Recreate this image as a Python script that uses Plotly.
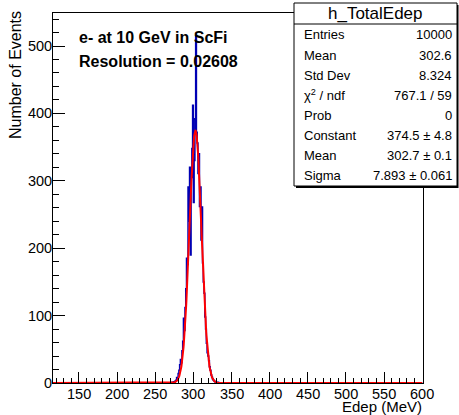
import plotly.graph_objects as go
import math

# ---- data ----
bin_width = 1.0
first_bin_low = 272
counts = [1, 0, 2, 1, 3, 4, 8, 6, 14, 19, 27, 35, 30, 48, 62, 96, 78, 112, 140, 185,
          176, 291, 240, 320, 190, 305, 348, 412, 268, 330, 392, 515, 372, 356, 311,
          340, 262, 291, 212, 261, 178, 150, 133, 98, 80, 59, 45, 40, 33, 24, 19, 12,
          9, 6, 4, 3, 2, 1, 1, 0, 1]
x_range = [116, 601]
x_tick_labels = [150, 200, 250, 300, 350, 400, 450, 500, 550, 600]
fit_constant = 374.5
fit_mean = 302.7
fit_sigma = 7.893

stats_rows = [("Entries", "10000"), ("Mean", "302.6"), ("Std Dev", "8.324"),
              ("χ<sup>2</sup> / ndf", "767.1 / 59"), ("Prob", "0"),
              ("Constant", "374.5 ± 4.8"), ("Mean", "302.7 ± 0.1"),
              ("Sigma", "7.893 ± 0.061")]
stats_title = "h_TotalEdep"
label_lines = ["e- at 10 GeV in ScFi", "Resolution = 0.02608"]

# ---- histogram step line ----
hx = [x_range[0]]
hy = [0]
for i, c in enumerate(counts):
    hx.append(first_bin_low + i * bin_width)
    hy.append(c)
hx.append(first_bin_low + len(counts) * bin_width)
hy.append(0)
hx.append(x_range[1] - 1)
hy.append(0)

# fit curve
fx = []
fy = []
n = 1940
for i in range(n + 1):
    x = x_range[0] + (x_range[1] - 1 - x_range[0]) * i / n
    fx.append(x)
    fy.append(fit_constant * math.exp(-0.5 * ((x - fit_mean) / fit_sigma) ** 2))

W, H = 459, 415
L, R, T, B = 53, 423, 13, 383
FONT = "Liberation Sans, Arial, sans-serif"


def px(x):
    return (x - L) / (R - L)


def py(y):
    return (B - y) / (B - T)


fig = go.Figure()
fig.add_trace(go.Scatter(x=hx, y=hy, mode="lines", line=dict(color="#0000b4", width=1.5, shape="hv"),
                         hoverinfo="skip", showlegend=False))
fig.add_trace(go.Scatter(x=fx, y=fy, mode="lines", line=dict(color="#ff0000", width=2),
                         hoverinfo="skip", showlegend=False))

axis_common = dict(showline=True, linecolor="black", linewidth=1, mirror=True,
                   ticks="inside", tickcolor="black", showgrid=False, zeroline=False,
                   tickfont=dict(family=FONT, size=14.5, color="black"))
fig.update_xaxes(range=x_range, dtick=50, tick0=0, ticklen=11, tickwidth=1,
                 showticklabels=False,
                 minor=dict(dtick=10, ticks="inside", ticklen=5, tickcolor="black"),
                 **axis_common)
fig.update_yaxes(range=[0, 549], dtick=100, tick0=0, ticklen=12, tickwidth=1,
                 ticklabelstandoff=-3,
                 minor=dict(dtick=20, ticks="inside", ticklen=6, tickcolor="black"),
                 **axis_common)

shapes = []
shapes.append(dict(type="rect", xref="paper", yref="paper", x0=px(296), x1=px(458.5), y0=py(188), y1=py(5),
                   fillcolor="black", line=dict(width=0), layer="above"))
shapes.append(dict(type="rect", xref="paper", yref="paper", x0=px(294), x1=px(457), y0=py(186), y1=py(3),
                   fillcolor="white", line=dict(color="black", width=1), layer="above"))
shapes.append(dict(type="line", xref="paper", yref="paper", x0=px(294), x1=px(457), y0=py(24), y1=py(24),
                   line=dict(color="black", width=1), layer="above"))

annotations = []
for v in x_tick_labels:
    annotations.append(dict(text=str(v), xref="x", yref="paper", x=v, y=py(393.5),
                            xanchor="center", yanchor="middle", showarrow=False,
                            font=dict(family=FONT, size=14.5, color="black")))
annotations.append(dict(text=stats_title, xref="paper", yref="paper", x=px(375.5), y=py(14),
                        xanchor="center", yanchor="middle", showarrow=False,
                        font=dict(family=FONT, size=17, color="black")))
for i, (lab, val) in enumerate(stats_rows):
    yy = 35 + i * 20.1
    annotations.append(dict(text=lab, xref="paper", yref="paper", x=px(302), y=py(yy),
                            xanchor="left", yanchor="middle", showarrow=False,
                            font=dict(family=FONT, size=13, color="black")))
    annotations.append(dict(text=val, xref="paper", yref="paper", x=px(453.5), y=py(yy),
                            xanchor="right", yanchor="middle", showarrow=False,
                            font=dict(family=FONT, size=13, color="black")))
for i, line in enumerate(label_lines):
    annotations.append(dict(text="<b>" + line + "</b>", xref="paper", yref="paper", x=px(77),
                            y=py(38 + i * 23), xanchor="left", yanchor="middle", showarrow=False,
                            font=dict(family=FONT, size=16, color="black")))
annotations.append(dict(text="Edep (MeV)", xref="paper", yref="paper", x=px(424), y=py(406),
                        xanchor="right", yanchor="middle", showarrow=False,
                        font=dict(family=FONT, size=15, color="black")))
annotations.append(dict(text="Number of Events", xref="paper", yref="paper", x=px(15), y=py(9),
                        xanchor="center", yanchor="top", textangle=-90, showarrow=False,
                        font=dict(family=FONT, size=16, color="black")))

fig.update_layout(width=W, height=H, margin=dict(l=L, r=W - R, t=T, b=H - B, pad=0),
                  paper_bgcolor="white", plot_bgcolor="white",
                  shapes=shapes, annotations=annotations, showlegend=False)

fig.write_html("out.html", config={"displayModeBar": False},
               post_script="document.body.style.margin='0px';document.body.style.padding='0px';")
